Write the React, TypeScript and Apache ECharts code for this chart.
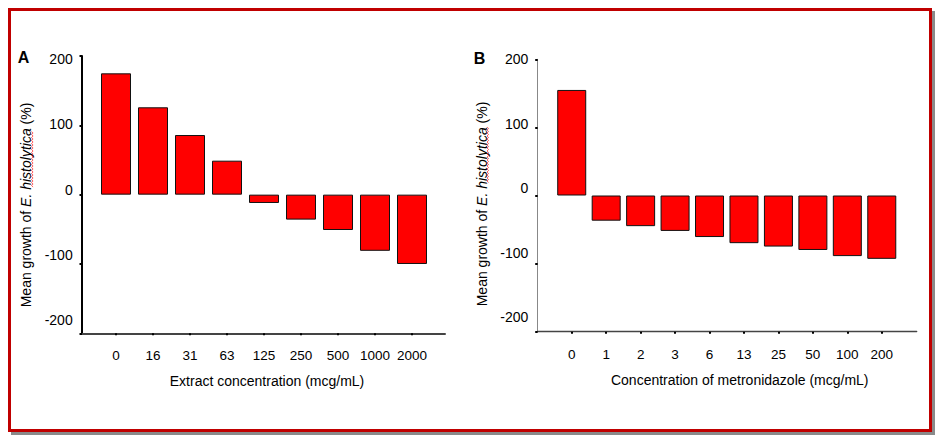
import React, { useEffect, useRef } from 'react';
import * as echarts from 'echarts';

const catsA = ['0', '16', '31', '63', '125', '250', '500', '1000', '2000'];
const valsA = [175, 126, 86, 49, -12, -36, -51, -81, -100];
const catsB = ['0', '1', '2', '3', '6', '13', '25', '50', '100', '200'];
const valsB = [155, -37, -45, -52, -61, -70, -75, -80, -89, -93];
const yMin = -200;
const yMax = 200;
const yStep = 100;
const titleA = 'Extract concentration (mcg/mL)';
const titleB = 'Concentration of metronidazole (mcg/mL)';

const FONT = '"Liberation Sans", Arial, sans-serif';

function wavy(x: number, y0: number, y1: number) {
  const pts: number[][] = [];
  let k = 0;
  for (let y = y0; y <= y1; y += 1.5) {
    pts.push([k % 2 === 0 ? x : x + 1.6, y]);
    k++;
  }
  return {
    type: 'polyline',
    z: 110,
    shape: { points: pts },
    style: { stroke: '#ff2020', lineWidth: 0.7, fill: null },
  };
}

function yTitle(x: number, y: number) {
  return {
    type: 'text',
    z: 100,
    x,
    y,
    rotation: Math.PI / 2,
    style: {
      text: '{n|Mean growth of }{i|E. histolytica}{n| (%)}',
      rich: {
        n: { fontSize: 14, fontFamily: FONT, fill: '#000' },
        i: { fontSize: 14, fontFamily: FONT, fontStyle: 'italic', fill: '#000' },
      },
      align: 'center',
      verticalAlign: 'middle',
      textAlign: 'center',
      textVerticalAlign: 'middle',
    },
  };
}

function panelLetter(t: string, x: number, y: number) {
  return {
    type: 'text',
    z: 100,
    x,
    y,
    style: {
      text: t,
      font: 'bold 16px ' + FONT,
      fill: '#000',
      align: 'center',
      verticalAlign: 'middle',
      textAlign: 'center',
      textVerticalAlign: 'middle',
    },
  };
}

export default function App() {
  const ref = useRef<HTMLDivElement>(null);
  useEffect(() => {
    if (!ref.current) return;
    const chart = echarts.init(ref.current, undefined, { renderer: 'svg' });

    const hiddenLine = { show: false, onZero: false };
    const noSplit = { show: false };

    const frameX = (gi: number, color: string, width: number) => ({
      gridIndex: gi,
      type: 'value',
      min: 0,
      max: 1,
      axisLine: { show: true, onZero: false, lineStyle: { color, width } },
      axisTick: { show: false },
      axisLabel: { show: false },
      splitLine: noSplit,
    });
    const frameY = (gi: number, color: string, width: number) => ({
      gridIndex: gi,
      type: 'value',
      min: yMin,
      max: yMax,
      interval: yStep,
      axisLine: { show: true, onZero: false, lineStyle: { color, width } },
      axisTick: { show: true, length: 2.5, lineStyle: { color: '#000', width: 2 } },
      axisLabel: { show: false },
      splitLine: noSplit,
    });
    const catX = (gi: number, data: string[], name: string, margin: number, shift: number) => ({
      gridIndex: gi,
      type: 'category',
      position: 'bottom',
      data,
      axisLine: hiddenLine,
      axisTick: {
        show: true,
        interval: 0,
        alignWithLabel: true,
        length: 2,
        lineStyle: { color: '#000', width: 2 },
      },
      axisLabel: { interval: 0, margin, fontSize: 13.5, color: '#000', fontFamily: FONT },
      splitLine: noSplit,
      name,
      nameLocation: 'middle',
      nameGap: 41,
      nameTextStyle: { fontSize: 14, color: '#000', fontFamily: FONT, padding: [0, 0, 0, shift] },
    });
    const barY = (gi: number) => ({
      gridIndex: gi,
      type: 'value',
      min: yMin,
      max: yMax,
      show: false,
    });
    const labelX = (gi: number) => ({ gridIndex: gi, type: 'value', min: 0, max: 1, show: false });
    const labelY = (gi: number) => ({
      gridIndex: gi,
      type: 'value',
      min: yMin,
      max: yMax,
      interval: yStep,
      axisLine: hiddenLine,
      axisTick: { show: false },
      splitLine: noSplit,
      axisLabel: { margin: 9.3, fontSize: 14, color: '#000', fontFamily: FONT },
    });

    chart.setOption({
      animation: false,
      backgroundColor: '#fff',
      textStyle: { fontFamily: FONT },
      grid: [
        { left: 82, top: 56, width: 363, height: 277.3 },
        { left: 97.5, top: 56, width: 333, height: 277.3 },
        { left: 82, top: 59.3, width: 363, height: 260.7 },
        { left: 537.7, top: 59.3, width: 379, height: 272.4 },
        { left: 554.5, top: 59.3, width: 344.5, height: 272.4 },
        { left: 537.7, top: 59.3, width: 379, height: 258 },
      ],
      xAxis: [
        frameX(0, '#444', 2),
        catX(1, catsA, titleA, 15, 6),
        labelX(2),
        frameX(3, '#444', 1.3),
        catX(4, catsB, titleB, 16, 26),
        labelX(5),
      ],
      yAxis: [
        frameY(0, '#000', 2),
        barY(1),
        labelY(2),
        frameY(3, '#888', 1),
        barY(4),
        labelY(5),
      ],
      series: [
        {
          type: 'bar',
          xAxisIndex: 1,
          yAxisIndex: 1,
          data: valsA,
          barWidth: 30,
          itemStyle: { color: '#ff0000', borderColor: '#111', borderWidth: 1 },
        },
        {
          type: 'bar',
          xAxisIndex: 4,
          yAxisIndex: 4,
          data: valsB,
          barWidth: 29,
          itemStyle: { color: '#ff0000', borderColor: '#111', borderWidth: 1 },
        },
      ],
      graphic: [
        {
          type: 'rect',
          z: -10,
          shape: { x: 11, y: 11, width: 924, height: 424 },
          style: { fill: '#8a8a8a' },
        },
        {
          type: 'rect',
          z: -9,
          shape: { x: 9.5, y: 9.5, width: 921, height: 421 },
          style: { fill: '#fff', stroke: '#c00000', lineWidth: 3 },
        },
        panelLetter('A', 23.5, 57),
        panelLetter('B', 479.5, 58),
        yTitle(26, 205),
        yTitle(481.7, 204),
        wavy(31.5, 131.5, 187),
        wavy(487, 127, 183),
      ],
    });
    return () => chart.dispose();
  }, []);
  return (
    <div
      ref={ref}
      style={{ position: 'absolute', left: 0, top: 0, width: 938, height: 441, background: '#fff' }}
    />
  );
}
